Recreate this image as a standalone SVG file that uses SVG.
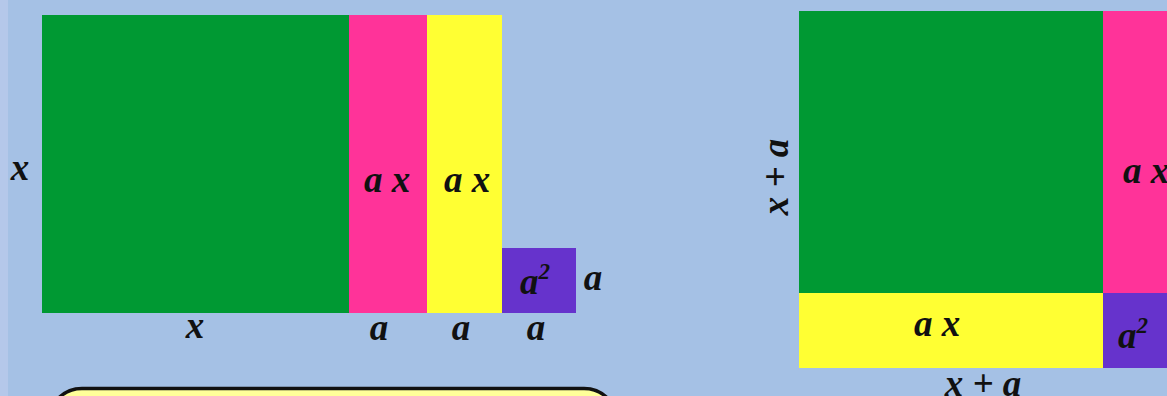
<svg xmlns="http://www.w3.org/2000/svg" width="1167" height="396" viewBox="0 0 1167 396">
<style>
.t{font-family:"Liberation Serif","Times New Roman",serif;font-weight:bold;font-style:italic;fill:#111;}
.l{font-size:37px;}
.s{font-size:23px;}
</style>
<rect x="0" y="0" width="1167" height="396" fill="#a5c1e5"/>
<rect x="0" y="0" width="8" height="396" fill="#b5c8ea"/>
<g id="left">
<g id="L-green"><rect x="42" y="15" width="307" height="298" fill="#009933"/></g>
<g id="L-pink"><rect x="349" y="15" width="78" height="298" fill="#ff3399"/><text class="t l" x="387" y="192" text-anchor="middle">a x</text></g>
<g id="L-yellow"><rect x="427" y="15" width="75" height="298" fill="#ffff33"/><text class="t l" x="467" y="192" text-anchor="middle">a x</text></g>
<g id="L-purple"><rect x="502" y="248" width="74" height="65" fill="#6633cc"/><text class="t l" x="535" y="294" text-anchor="middle" fill="#1a1040">a<tspan class="s" dy="-15">2</tspan></text></g>
<text class="t l" x="20" y="180" text-anchor="middle">x</text>
<text class="t l" x="593" y="290" text-anchor="middle">a</text>
<text class="t l" x="195" y="338" text-anchor="middle">x</text>
<text class="t l" x="379" y="340" text-anchor="middle">a</text>
<text class="t l" x="461" y="340" text-anchor="middle">a</text>
<text class="t l" x="536" y="340" text-anchor="middle">a</text>
</g>
<g id="box"><rect x="50" y="388.5" width="566" height="60" rx="32" ry="32" fill="#ffff99" stroke="#111" stroke-width="3.5"/></g>
<g id="right">
<g id="R-green"><rect x="799" y="11" width="304" height="282" fill="#009933"/></g>
<g id="R-pink"><rect x="1103" y="11" width="64" height="282" fill="#ff3399"/><text class="t l" x="1146" y="183" text-anchor="middle">a x</text></g>
<g id="R-yellow"><rect x="799" y="293" width="304" height="75" fill="#ffff33"/><text class="t l" x="937" y="336" text-anchor="middle">a x</text></g>
<g id="R-purple"><rect x="1103" y="293" width="64" height="75" fill="#6633cc"/><text class="t l" x="1133" y="348" text-anchor="middle" fill="#1a1040">a<tspan class="s" dy="-15">2</tspan></text></g>
<text class="t l" transform="translate(788,177) rotate(-90)" text-anchor="middle">x + a</text>
<text class="t l" x="983" y="396" text-anchor="middle">x + a</text>
</g>
</svg>
